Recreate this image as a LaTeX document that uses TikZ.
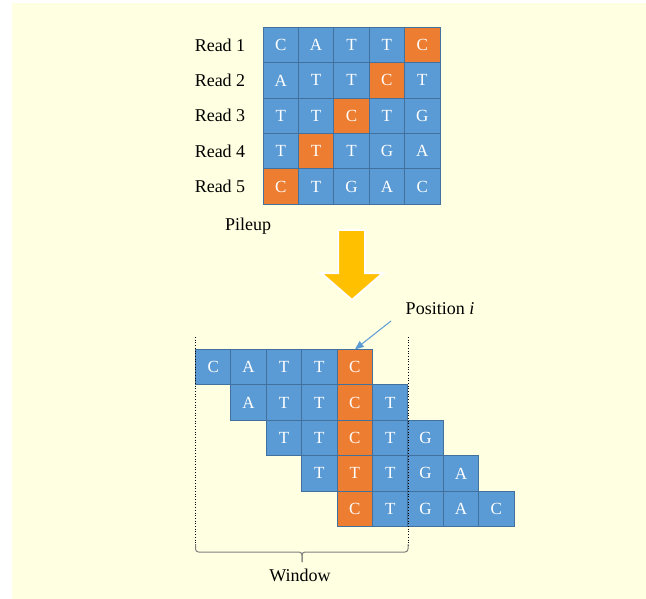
\documentclass[tikz,border=0pt]{standalone}
\usepackage{fontspec}
\setmainfont{Liberation Serif}
\usetikzlibrary{arrows.meta}
\definecolor{bgy}{HTML}{FFFFE1}
\definecolor{cellblue}{HTML}{5B9BD5}
\definecolor{cellline}{HTML}{41719C}
\definecolor{cellorange}{HTML}{ED7D31}
\definecolor{arrowyellow}{HTML}{FFC000}
\definecolor{bracegray}{HTML}{7F7F7F}
\tikzset{
  cell/.style={draw=cellline, line width=0.9pt, fill=cellblue, minimum size=35.4pt, inner sep=0pt, outer sep=0pt,
    text=white, font=\fontsize{17}{20}\selectfont, anchor=north west},
  hot/.style={fill=cellorange},
  lbl/.style={font=\fontsize{18}{21}\selectfont, text=black, inner sep=0pt}
}
\begin{document}
\begin{tikzpicture}[x=1pt,y=-1pt]
\useasboundingbox (0,0) rectangle (646,599);
\fill[bgy] (12,3) rectangle (646,599);
% top pileup grid
\def\sz{35.4}
\foreach \r/\row/\hc in {1/{C,A,T,T,C}/5, 2/{A,T,T,C,T}/4, 3/{T,T,C,T,G}/3, 4/{T,T,T,G,A}/2, 5/{C,T,G,A,C}/1}{
  \foreach \ch [count=\c] in \row {
    \ifnum\c=\hc
      \node[cell,hot] (t-\r-\c) at ({263+(\c-1)*\sz},{27.3+(\r-1)*\sz}) {\ch};
    \else
      \node[cell] (t-\r-\c) at ({263+(\c-1)*\sz},{27.3+(\r-1)*\sz}) {\ch};
    \fi
  }
  \node[lbl] (read\r) at (220,{27.3+(\r-0.5)*\sz}) {Read \r};
}
\node[lbl] (pileup) at (248,226) {Pileup};
% yellow arrow
\filldraw[fill=arrowyellow, draw=white, line width=2pt, line join=miter]
  (338,230) -- (365,230) -- (365,273) -- (383,273) -- (352,300) -- (321,273) -- (338,273) -- cycle;
% bottom shifted grid
\foreach \r/\row in {1/{C,A,T,T,C}, 2/{A,T,T,C,T}, 3/{T,T,C,T,G}, 4/{T,T,T,G,A}, 5/{C,T,G,A,C}}{
  \foreach \ch [count=\c] in \row {
    \pgfmathtruncatemacro{\g}{\r+\c-1}
    \ifnum\g=5
      \node[cell,hot] (b-\r-\c) at ({195.5+(\g-1)*\sz},{349.5+(\r-1)*\sz}) {\ch};
    \else
      \node[cell] (b-\r-\c) at ({195.5+(\g-1)*\sz},{349.5+(\r-1)*\sz}) {\ch};
    \fi
  }
}
% window lines
\draw[dotted, line width=0.7pt] (195.5,337) -- (195.5,546);
\draw[dotted, line width=0.7pt] (408,337) -- (408,546);
\draw[bracegray, line width=1pt, rounded corners=3pt]
  (195.5,544) -- (195.5,552) -- (302,552) -- (302,562);
\draw[bracegray, line width=1pt, rounded corners=3pt]
  (408,544) -- (408,552) -- (302,552) -- (302,562);
\node[lbl] (window) at (300,575) {Window};
% position label
\node[lbl] (pos) at (440,309) {Position \textit{i}};
\coordinate (pa) at (391,321);
\draw[cellblue, line width=1pt, -{Triangle[length=9pt,width=7pt]}] (pa) -- (b-1-5.north);
\end{tikzpicture}
\end{document}
